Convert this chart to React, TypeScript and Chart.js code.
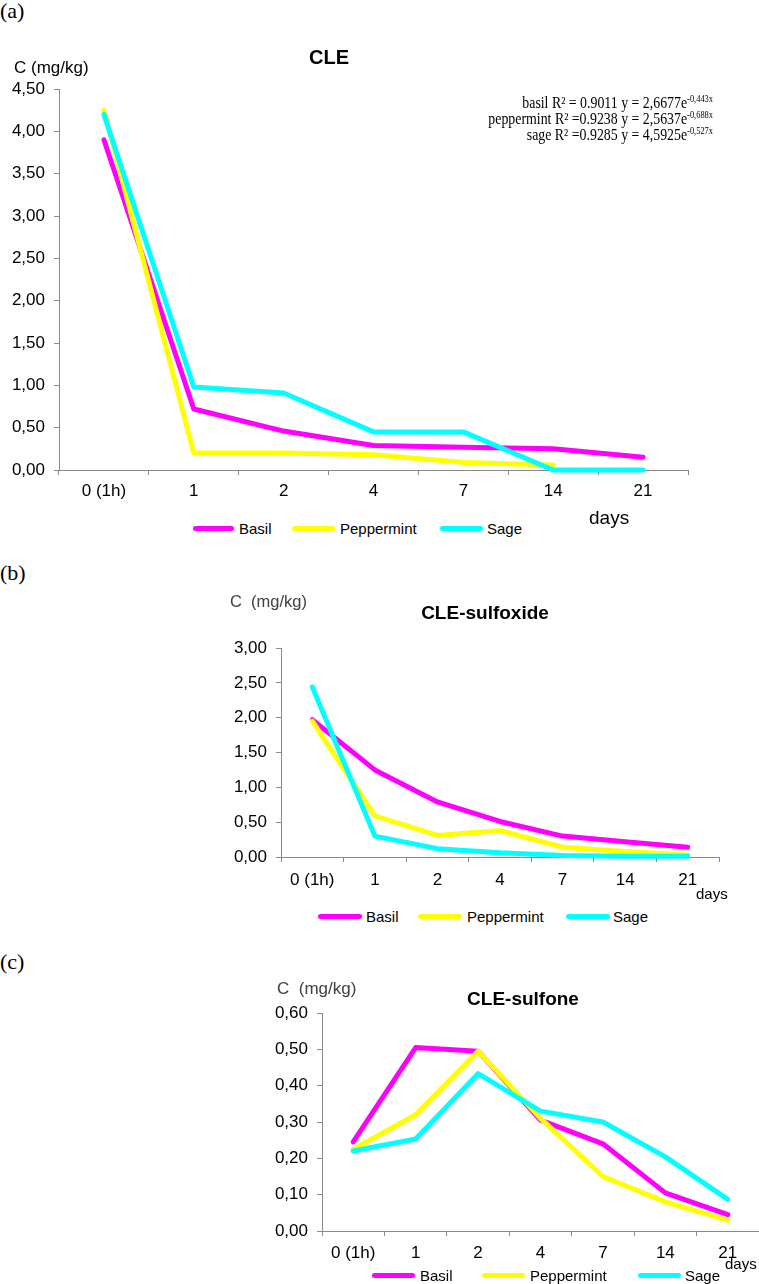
import React, { useEffect, useRef } from 'react';
import { Chart, registerables } from 'chart.js';

Chart.register(...registerables);

// ---------------- data ----------------
const dayLabels = ['0 (1h)', '1', '2', '4', '7', '14', '21'];

const basilCLE = [3.9, 0.72, 0.46, 0.29, 0.27, 0.25, 0.15];
const peppermintCLE = [4.25, 0.2, 0.2, 0.18, 0.09, 0.06, null];
const sageCLE = [4.2, 0.98, 0.91, 0.45, 0.45, 0.0, 0.0];

const basilSulfoxide = [1.97, 1.25, 0.79, 0.51, 0.3, 0.22, 0.14];
const peppermintSulfoxide = [1.95, 0.59, 0.31, 0.38, 0.14, 0.08, 0.03];
const sageSulfoxide = [2.44, 0.3, 0.12, 0.06, 0.02, 0.01, 0.01];

const basilSulfone = [0.245, 0.505, 0.495, 0.305, 0.24, 0.105, 0.045];
const peppermintSulfone = [0.225, 0.32, 0.495, 0.31, 0.15, 0.08, 0.03];
const sageSulfone = [0.22, 0.253, 0.433, 0.33, 0.3, 0.204, 0.087];

const seriesNames = ['Basil', 'Peppermint', 'Sage'];
const fitLines = [
  { text: 'basil R² = 0.9011 y = 2,6677e', exp: '-0,443x' },
  { text: 'peppermint R² =0.9238 y = 2,5637e', exp: '-0,688x' },
  { text: 'sage R² =0.9285 y = 4,5925e', exp: '-0,527x' },
];

// ---------------- styles ----------------
const COLORS = ['#FF00FF', '#FFFF00', '#00FFFF'];
const AXIS = '#8a8a8a';
const SANS = '"Liberation Sans", Arial, sans-serif';
const SERIF = '"Liberation Serif", "Times New Roman", serif';

type Spec = {
  basil: (number | null)[];
  pep: (number | null)[];
  sage: (number | null)[];
  yMax: number;
  yStep: number;
  yW: number;
  xH: number;
  pad: { top: number; right: number; bottom: number; left: number };
  xPad: number;
  yPad: number;
};

function build(canvas: HTMLCanvasElement, spec: Spec) {
  const raw = [spec.basil, spec.pep, spec.sage];
  const datasets = raw.map((d, i) => ({
    label: seriesNames[i],
    data: d,
    borderColor: COLORS[i],
    backgroundColor: COLORS[i],
    borderWidth: 5,
    pointRadius: 0,
    pointHoverRadius: 0,
    tension: 0,
    clip: false as any,
    borderJoinStyle: 'round' as const,
    borderCapStyle: 'round' as const,
    spanGaps: false,
    order: 3 - i,
  }));
  return new Chart(canvas, {
    type: 'line',
    data: { labels: dayLabels, datasets },
    options: {
      responsive: false,
      maintainAspectRatio: false,
      animation: false,
      devicePixelRatio: 1,
      events: [],
      layout: { padding: spec.pad },
      plugins: {
        legend: { display: false },
        tooltip: { enabled: false },
        title: { display: false },
      },
      scales: {
        x: {
          type: 'category',
          offset: true,
          grid: {
            offset: true,
            drawOnChartArea: false,
            drawTicks: true,
            tickLength: 5,
            color: AXIS,
            lineWidth: 1,
          },
          border: { display: true, color: AXIS, width: 1 },
          ticks: {
            color: '#000',
            font: { family: SANS, size: 17 },
            padding: spec.xPad,
            maxRotation: 0,
            autoSkip: false,
          },
          afterFit: (s: any) => {
            s.height = spec.xH;
          },
        },
        y: {
          type: 'linear',
          min: 0,
          max: spec.yMax,
          grid: {
            drawOnChartArea: false,
            drawTicks: true,
            tickLength: 5,
            color: AXIS,
            lineWidth: 1,
          },
          border: { display: true, color: AXIS, width: 1 },
          ticks: {
            stepSize: spec.yStep,
            color: '#000',
            font: { family: SANS, size: 17 },
            padding: spec.yPad,
            callback: (v: any) => Number(v).toFixed(2).replace('.', ','),
          },
          afterFit: (s: any) => {
            s.width = spec.yW;
          },
        },
      },
    },
  });
}

// ---------------- text helpers ----------------
function T(props: {
  x: number;
  y: number;
  anchor?: 'left' | 'center' | 'right';
  scaleX?: number;
  style?: React.CSSProperties;
  children: React.ReactNode;
}) {
  const a = props.anchor || 'left';
  const tx = a === 'left' ? '0' : a === 'center' ? '-50%' : '-100%';
  const sx = props.scaleX ? ` scaleX(${props.scaleX})` : '';
  return (
    <div
      style={{
        position: 'absolute',
        left: props.x,
        top: props.y,
        transform: `translate(${tx}, -50%)${sx}`,
        transformOrigin: a === 'right' ? '100% 50%' : a === 'center' ? '50% 50%' : '0 50%',
        whiteSpace: 'nowrap',
        lineHeight: 1,
        fontFamily: SANS,
        color: '#000',
        ...props.style,
      }}
    >
      {props.children}
    </div>
  );
}

function Legend(props: { y: number; items: { x1: number; x2: number; tx: number }[] }) {
  return (
    <>
      {props.items.map((it, i) => (
        <React.Fragment key={i}>
          <div
            style={{
              position: 'absolute',
              left: it.x1,
              top: props.y - 2.5,
              width: it.x2 - it.x1,
              height: 5,
              borderRadius: 3,
              background: COLORS[i],
            }}
          />
          <T x={it.tx} y={props.y} style={{ fontSize: 15 }}>
            {seriesNames[i]}
          </T>
        </React.Fragment>
      ))}
    </>
  );
}

const CANVASES = [
  { left: 0, top: 40, width: 759, height: 470 },
  { left: 200, top: 600, width: 559, height: 300 },
  { left: 222, top: 960, width: 537, height: 320 },
];

export default function App() {
  const r1 = useRef<HTMLCanvasElement>(null);
  const r2 = useRef<HTMLCanvasElement>(null);
  const r3 = useRef<HTMLCanvasElement>(null);

  useEffect(() => {
    const charts: Chart[] = [];
    if (r1.current)
      charts.push(
        build(r1.current, {
          basil: basilCLE,
          pep: peppermintCLE,
          sage: sageCLE,
          yMax: 4.5,
          yStep: 0.5,
          yW: 59,
          xH: 40,
          pad: { top: 49, right: 71, bottom: 0, left: 0 },
          xPad: 6,
          yPad: 9,
        })
      );
    if (r2.current)
      charts.push(
        build(r2.current, {
          basil: basilSulfoxide,
          pep: peppermintSulfoxide,
          sage: sageSulfoxide,
          yMax: 3,
          yStep: 0.5,
          yW: 81,
          xH: 43,
          pad: { top: 48, right: 40, bottom: 0, left: 0 },
          xPad: 8,
          yPad: 9,
        })
      );
    if (r3.current)
      charts.push(
        build(r3.current, {
          basil: basilSulfone,
          pep: peppermintSulfone,
          sage: sageSulfone,
          yMax: 0.6,
          yStep: 0.1,
          yW: 100,
          xH: 49,
          pad: { top: 53, right: 0, bottom: 0, left: 0 },
          xPad: 7,
          yPad: 9,
        })
      );
    return () => charts.forEach((c) => c.destroy());
  }, []);

  const refs = [r1, r2, r3];

  return (
    <div
      style={{
        position: 'absolute',
        left: 0,
        top: 0,
        width: 759,
        height: 1284,
        background: '#fff',
        overflow: 'hidden',
      }}
    >
      {CANVASES.map((c, i) => (
        <canvas
          key={i}
          ref={refs[i]}
          width={c.width}
          height={c.height}
          style={{
            position: 'absolute',
            left: c.left,
            top: c.top,
            width: c.width,
            height: c.height,
          }}
        />
      ))}

      {/* (a) CLE */}
      <T x={0} y={11} style={{ fontFamily: SERIF, fontSize: 22 }}>(a)</T>
      <T x={329} y={57} anchor="center" style={{ fontWeight: 'bold', fontSize: 20 }}>CLE</T>
      <T x={14} y={67} style={{ fontSize: 17 }}>C (mg/kg)</T>
      {fitLines.map((f, i) => (
        <T
          key={i}
          x={713}
          y={103 + i * 16}
          anchor="right"
          scaleX={0.84}
          style={{ fontFamily: SERIF, fontSize: 16.5 }}
        >
          {f.text}
          <span style={{ fontSize: 10, position: 'relative', top: -6 }}>{f.exp}</span>
        </T>
      ))}
      <Legend
        y={528}
        items={[
          { x1: 193, x2: 234, tx: 239 },
          { x1: 292, x2: 335, tx: 340 },
          { x1: 440, x2: 483, tx: 487 },
        ]}
      />
      <T x={589} y={517} style={{ fontSize: 19 }}>days</T>

      {/* (b) CLE-sulfoxide */}
      <T x={0} y={573} style={{ fontFamily: SERIF, fontSize: 22 }}>(b)</T>
      <T x={230} y={601} style={{ fontSize: 16.5, color: '#404040' }}>C&nbsp;&nbsp;(mg/kg)</T>
      <T x={485} y={612} anchor="center" style={{ fontWeight: 'bold', fontSize: 19 }}>CLE-sulfoxide</T>
      <Legend
        y={916}
        items={[
          { x1: 318, x2: 362, tx: 366 },
          { x1: 418, x2: 462, tx: 467 },
          { x1: 566, x2: 610, tx: 613 },
        ]}
      />
      <T x={696} y={893} style={{ fontSize: 15 }}>days</T>

      {/* (c) CLE-sulfone */}
      <T x={0} y={962} style={{ fontFamily: SERIF, fontSize: 22 }}>(c)</T>
      <T x={277} y={988} style={{ fontSize: 17, color: '#404040' }}>C&nbsp;&nbsp;(mg/kg)</T>
      <T x={523} y={998} anchor="center" style={{ fontWeight: 'bold', fontSize: 19 }}>CLE-sulfone</T>
      <Legend
        y={1275}
        items={[
          { x1: 372, x2: 415, tx: 420 },
          { x1: 482, x2: 525, tx: 530 },
          { x1: 638, x2: 681, tx: 685 },
        ]}
      />
      <T x={725} y={1263} style={{ fontSize: 15 }}>days</T>
    </div>
  );
}
